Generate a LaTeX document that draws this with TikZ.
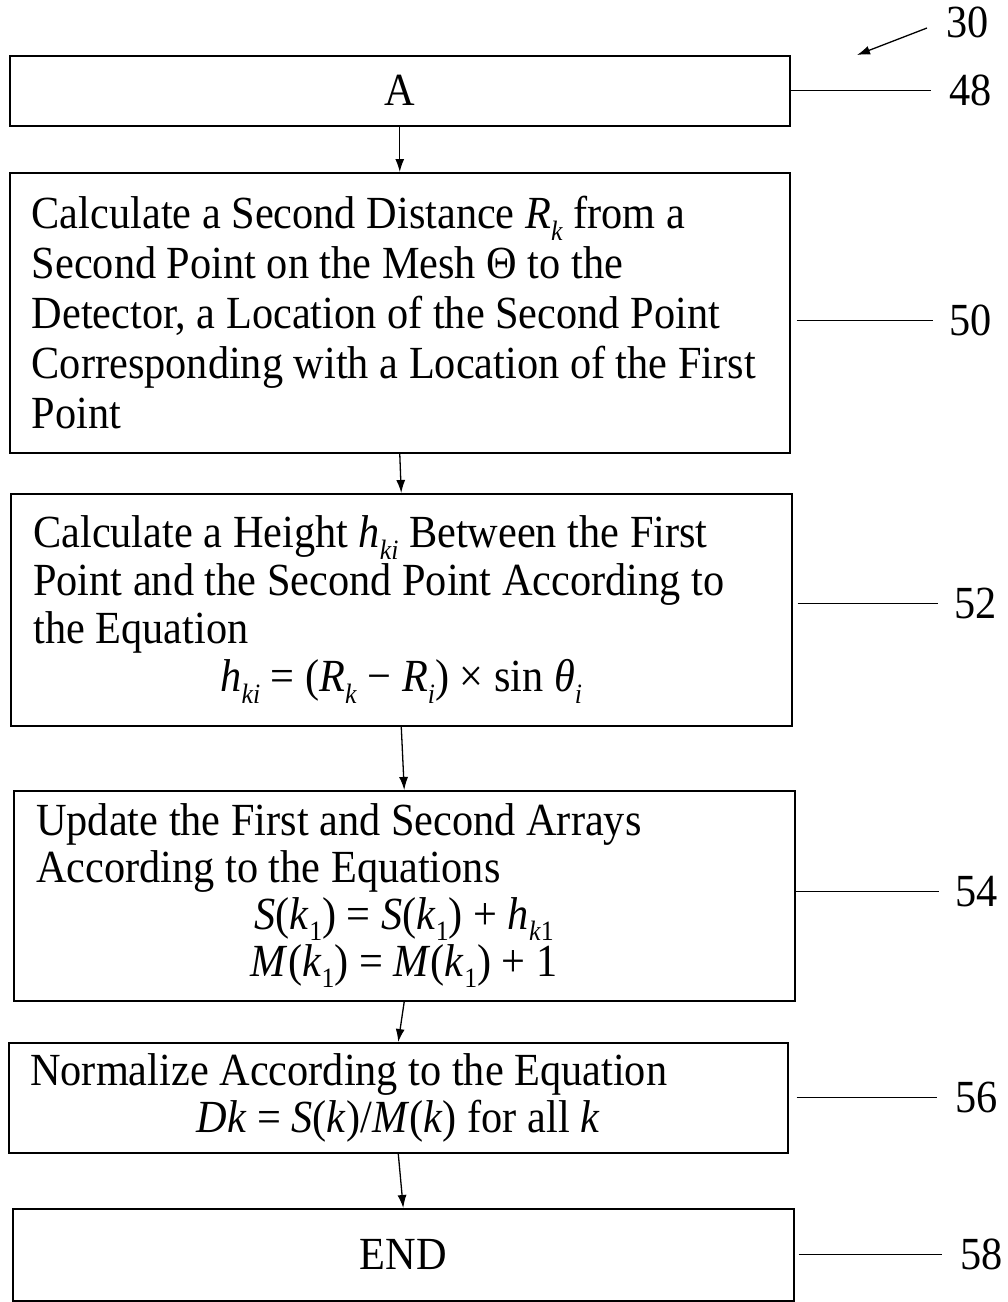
\documentclass[tikz,border=0pt]{standalone}
\usepackage{fontspec}
\setmainfont{Liberation Serif}[FakeStretch=0.92]
\usetikzlibrary{arrows.meta}
\newcommand{\sbx}[1]{\raisebox{-0.25em}{\fontsize{28pt}{28pt}\selectfont #1}}
\newcommand{\vv}[1]{\textit{#1}}
\begin{document}
\begin{tikzpicture}[x=1pt,y=-1pt,
  flowbox/.style={draw, line width=1.5pt, inner sep=0pt, anchor=north west,
    font=\fontsize{46pt}{50pt}\selectfont},
  flow/.style={line width=1.3pt, -{Latex[length=13pt,width=9pt]}},
  leader/.style={line width=1.3pt},
  reflabel/.style={font=\fontsize{46pt}{50pt}\selectfont, anchor=west, inner sep=0pt}
]
\useasboundingbox (0,0) rectangle (1008,1302);

\node[flowbox, minimum width=780pt, minimum height=70pt] (a) at (9,55) {A};

\node[flowbox, minimum width=780pt, minimum height=280pt] (b50) at (9,172) {\parbox{736pt}{\raggedright
Calculate a Second Distance \vv{R}\sbx{\vv{k}} from a\\
Second Point on the Mesh Θ to the\\
Detector, a Location of the Second Point\\
Corresponding with a Location of the First\\
Point}};

\node[flowbox, minimum width=781pt, minimum height=232pt,
  font=\fontsize{46pt}{48pt}\selectfont] (b52) at (10,493) {\parbox{736pt}{\raggedright
Calculate a Height \vv{h}\sbx{\vv{ki}} Between the First\\
Point and the Second Point According to\\
the Equation\\
\makebox[\linewidth]{\vv{h}\sbx{\vv{ki}} = (\vv{R}\sbx{\vv{k}} − \vv{R}\sbx{\vv{i}}) × sin \vv{θ}\sbx{\vv{i}}}}};

\node[flowbox, minimum width=781pt, minimum height=210pt,
  font=\fontsize{46pt}{47pt}\selectfont] (b54) at (13,790) {\parbox{736pt}{\raggedright
Update the First and Second Arrays\\
According to the Equations\\
\makebox[\linewidth]{\vv{S}(\vv{k}\sbx{1}) = \vv{S}(\vv{k}\sbx{1}) + \vv{h}\sbx{\vv{k}1}}\\
\makebox[\linewidth]{\vv{M}(\vv{k}\sbx{1}) = \vv{M}(\vv{k}\sbx{1}) + 1}}};

\node[flowbox, minimum width=779pt, minimum height=110pt,
  font=\fontsize{46pt}{47pt}\selectfont] (b56) at (8,1042) {\parbox{736pt}{\raggedright
Normalize According to the Equation\\
\makebox[\linewidth]{\vv{Dk} = \vv{S}(\vv{k})/\vv{M}(\vv{k}) for all \vv{k}}}};

\node[flowbox, minimum width=781pt, minimum height=92pt] (b58) at (12,1208) {END};

\draw[flow] (a.south) -- (b50.north);
\draw[flow] (b50.south) -- (b52.north);
\draw[flow] (b52.south) -- (b54.north);
\draw[flow] (b54.south) -- (b56.north);
\draw[flow] (b56.south) -- (b58.north);

\node[reflabel] (l30) at (946,22) {30};
\coordinate (t30) at (857,55);
\draw[flow] ([xshift=-19pt,yshift=-6pt]l30.west) -- (t30);

\draw[leader] (a.east) -- ++(140,0) node[reflabel, xshift=18pt] (l48) {48};
\draw[leader] ([xshift=6pt,yshift=-8pt]b50.east) -- ++(136,0) node[reflabel, xshift=16pt] (l50) {50};
\draw[leader] ([xshift=5pt,yshift=6pt]b52.east) -- ++(140,0) node[reflabel, xshift=16pt] (l52) {52};
\draw[leader] ([yshift=4pt]b54.east) -- ++(143,0) node[reflabel, xshift=16pt] (l54) {54};
\draw[leader] ([xshift=8pt]b56.east) -- ++(140,0) node[reflabel, xshift=18pt] (l56) {56};
\draw[leader] ([xshift=4pt]b58.east) -- ++(143,0) node[reflabel, xshift=18pt] (l58) {58};
\end{tikzpicture}
\end{document}
